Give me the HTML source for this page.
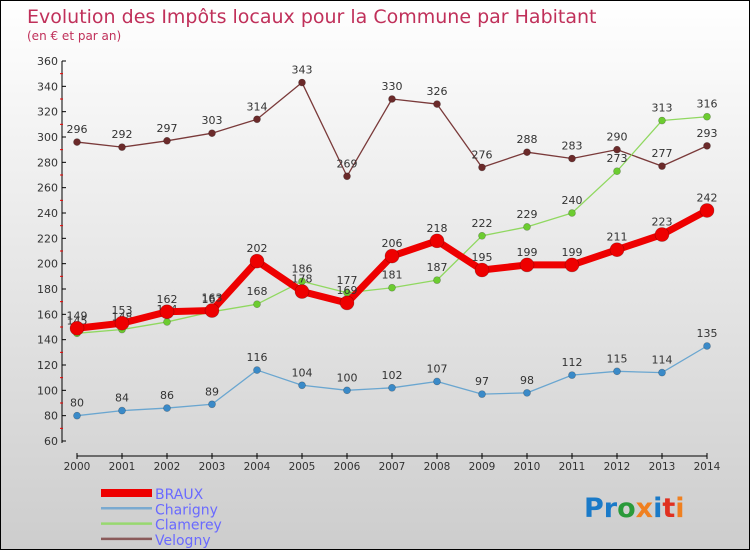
<!DOCTYPE html>
<html><head><meta charset="utf-8"><style>
html,body{margin:0;padding:0;}
body{width:750px;height:550px;overflow:hidden;font-family:"DejaVu Sans","Liberation Sans",sans-serif;}
#wrap{position:relative;width:748px;height:548px;border:1px solid #000;background:linear-gradient(#ffffff,#cdcdcd);}
svg{position:absolute;left:0;top:0;}
</style></head><body>
<div id="wrap">
<svg id="chart" width="750" height="550">
<text x="26" y="22" font-size="19" fill="#c0305a">Evolution des Impôts locaux pour la Commune par Habitant</text>
<text x="26" y="39" font-size="12" fill="#c0305a">(en € et par an)</text>
<g id="axes"></g><g id="series"></g><g id="legend"></g>
<text x="583" y="516" font-size="27" font-weight="bold"><tspan fill="#1a7ac8">Pr</tspan><tspan fill="#2a9a3a">o</tspan><tspan fill="#f08020">x</tspan><tspan fill="#1a7ac8">i</tspan><tspan fill="#e03020">t</tspan><tspan fill="#f08020">i</tspan></text>
</svg>
</div>
<script>
const years=[2000,2001,2002,2003,2004,2005,2006,2007,2008,2009,2010,2011,2012,2013,2014];
const yTicks=[60,80,100,120,140,160,180,200,220,240,260,280,300,320,340,360];
const seriesNames=["BRAUX","Charigny","Clamerey","Velogny"];
const braux=[149,153,162,163,202,178,169,206,218,195,199,199,211,223,242];
const charigny=[80,84,86,89,116,104,100,102,107,97,98,112,115,114,135];
const clamerey=[145,148,154,162,168,186,177,181,187,222,229,240,273,313,316];
const velogny=[296,292,297,303,314,343,269,330,326,276,288,283,290,277,293];

const NS="http://www.w3.org/2000/svg";
const x=i=>76+i*45;
const y=v=>440-(v-60)*380/300;
function mk(tag,attrs,parent,text){const e=document.createElementNS(NS,tag);for(const k in attrs)e.setAttribute(k,attrs[k]);if(text!==undefined)e.textContent=text;parent.appendChild(e);return e;}
const axes=document.getElementById('axes');
const ax=mk('line',{x1:61,y1:60,x2:61,y2:442,stroke:'#000','stroke-width':1},axes);


const bx=mk('line',{x1:76,y1:455,x2:706,y2:455,stroke:'#000','stroke-width':1},axes);


yTicks.forEach((t,i)=>{
  mk('line',{x1:61,y1:y(t),x2:65,y2:y(t),stroke:'#000'},axes);
  const l=mk('text',{x:57,y:y(t)+4,'font-size':11,fill:'#333','text-anchor':'end'},axes,t);
  
  
  if(i<yTicks.length-1) mk('line',{x1:59,y1:y(t+10),x2:62,y2:y(t+10),stroke:'#e00'},axes);
});
years.forEach((yr,i)=>{
  mk('line',{x1:x(i),y1:452,x2:x(i),y2:458,stroke:'#000'},axes);
  const l=mk('text',{x:x(i),y:469,'font-size':10.5,fill:'#333','text-anchor':'middle'},axes,yr);
  
  
});
const ser=document.getElementById('series');
const defs=[
 {name:'velogny',data:velogny,color:'#6b2a2a',line:'#7a3a3a',w:1.3,r:3.5},
 {name:'charigny',data:charigny,color:'#3a8ac8',line:'#6aa6d0',w:1.3,r:3.5},
 {name:'clamerey',data:clamerey,color:'#6ccc30',line:'#90d860',w:1.3,r:3.5},
 {name:'braux',data:braux,color:'#ee0000',line:'#ee0000',w:7,r:7}
];
defs.forEach(s=>{
  const g=mk('g',{},ser);
  
  
  const p=mk('polyline',{points:s.data.map((v,i)=>x(i)+','+y(v)).join(' '),fill:'none',stroke:s.line,'stroke-width':s.w,'stroke-linejoin':'round'},g);
  
  
  s.data.forEach((v,i)=>{
    const c=mk('circle',{cx:x(i),cy:y(v),r:s.r,fill:s.color,stroke:'rgba(0,0,0,0.3)','stroke-width':0.6},g);
    
    
    const t=mk('text',{x:x(i),y:y(v)-9,'font-size':11,fill:'#333','text-anchor':'middle'},g,v);
    
    
  });
});
const lg=document.getElementById('legend');
const lcol=['#ee0000','#7aaad0','#98d870','#8a5a5a'];
const lw=[8,2.5,2.5,2.5];
seriesNames.forEach((n,i)=>{
  const ly=492+i*15.3;
  const g=mk('g',{},lg);
  
  
  mk('line',{x1:100,y1:ly,x2:151,y2:ly,stroke:lcol[i],'stroke-width':lw[i]},g);
  mk('text',{x:154,y:ly+6,'font-size':14,fill:'#6a6aff'},g,n);
});
</script>
</body></html>
